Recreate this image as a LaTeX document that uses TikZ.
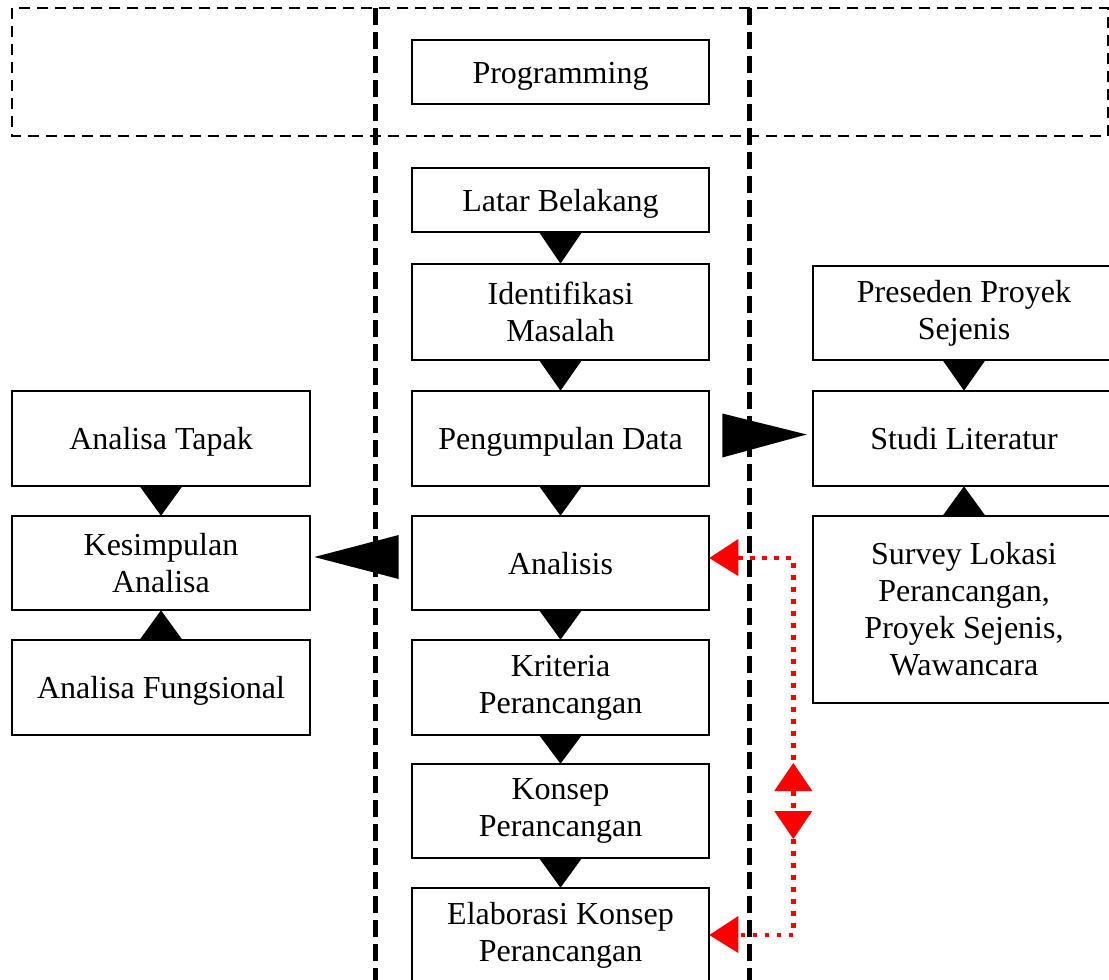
\documentclass[tikz,border=0pt]{standalone}
\usepackage{fontspec}
\setmainfont{Liberation Serif}
\usetikzlibrary{calc}
\tikzset{
  box/.style={draw, line width=2.6pt, minimum width=297pt, minimum height=94pt, align=center, inner sep=0pt, font=\fontsize{32}{37}\selectfont},
  oneline/.style={text height=22pt, text depth=0pt},
  thickdash/.style={line width=5pt, dash pattern=on 17pt off 7pt},
  thindash/.style={line width=2.4pt, dash pattern=on 11pt off 7pt},
  reddot/.style={red, line width=4.5pt, dash pattern=on 4.5pt off 7.5pt},
}
\newcommand{\downtri}[2]{\fill ($(#1.south)+(-22,-2)$) -- ($(#1.south)+(22,-2)$) -- ($(#2.north)+(0,1)$) -- cycle;}
\newcommand{\uptri}[2]{\fill ($(#1.north)+(-22,2)$) -- ($(#1.north)+(22,2)$) -- ($(#2.south)+(0,-1)$) -- cycle;}
\begin{document}
\begin{tikzpicture}[x=1pt, y=-1pt]
\useasboundingbox (0,0) rectangle (1109,980);
\clip (0,0) rectangle (1109,980);
% frames
\draw[thindash] (12,8) rectangle (1108,136);
\draw[thickdash] (375,8) -- (375,985);
\draw[thickdash] (749,8) -- (749,985);
% main column
\node[box, oneline, minimum height=64pt] (prog) at (560.5,72) {Programming};
\node[box, oneline, minimum height=64pt] (lb) at (560.5,200) {Latar Belakang};
\node[box, minimum height=96pt] (im) at (560.5,312) {Identifikasi\\Masalah};
\node[box, oneline, minimum height=95pt] (pd) at (560.5,438.5) {Pengumpulan Data};
\node[box, oneline] (an) at (560.5,563) {Analisis};
\node[box, minimum height=95pt] (kr) at (560.5,687.5) {Kriteria\\Perancangan};
\node[box] (ko) at (560.5,811) {Konsep\\Perancangan};
\node[box] (el) at (560.5,935) {Elaborasi Konsep\\Perancangan};
% left column
\node[box, oneline, minimum width=298pt, minimum height=95pt] (at) at (161,438.5) {Analisa Tapak};
\node[box, minimum width=298pt] (ka) at (161,563) {Kesimpulan\\Analisa};
\node[box, oneline, minimum width=298pt, minimum height=95pt] (af) at (161,687.5) {Analisa Fungsional};
% right column
\node[box, minimum width=302pt] (ps) at (964,313) {Preseden Proyek\\Sejenis};
\node[box, oneline, minimum width=302pt, minimum height=95pt] (sl) at (964,438.5) {Studi Literatur};
\node[box, minimum width=302pt, minimum height=187pt] (sv) at (964,609.5) {Survey Lokasi\\Perancangan,\\Proyek Sejenis,\\Wawancara};
% down/up arrows
\downtri{lb}{im}
\downtri{im}{pd}
\downtri{pd}{an}
\downtri{an}{kr}
\downtri{kr}{ko}
\downtri{ko}{el}
\downtri{at}{ka}
\uptri{af}{ka}
\downtri{ps}{sl}
\uptri{sv}{sl}
% big horizontal arrows
\fill ($(pd.east)+(12,-25)$) -- ($(pd.east)+(12,19)$) -- ($(sl.west)+(-5,-4)$) -- cycle;
\fill ($(an.west)+(-12,-28)$) -- ($(an.west)+(-12,16)$) -- ($(ka.east)+(3,-6)$) -- cycle;
% red feedback connector
\coordinate (r1) at ($(an.east)+(83,-5)$);
\coordinate (r2) at ($(el.east)+(83,0)$);
\draw[reddot] ($(an.east)+(28,-5)$) -- (r1) -- (r2) -- ($(el.east)+(28,0)$);
\fill[red] ($(an.east)+(-1,-5)$) -- ($(an.east)+(28,-24)$) -- ($(an.east)+(28,13)$) -- cycle;
\fill[red] ($(el.east)+(-1,0)$) -- ($(el.east)+(28,-19)$) -- ($(el.east)+(28,18)$) -- cycle;
\fill[red] ($(r1)+(0,205)$) -- ($(r1)+(-19,233)$) -- ($(r1)+(19,233)$) -- cycle;
\fill[red] ($(r1)+(0,281)$) -- ($(r1)+(-19,253)$) -- ($(r1)+(19,253)$) -- cycle;
\end{tikzpicture}
\end{document}
